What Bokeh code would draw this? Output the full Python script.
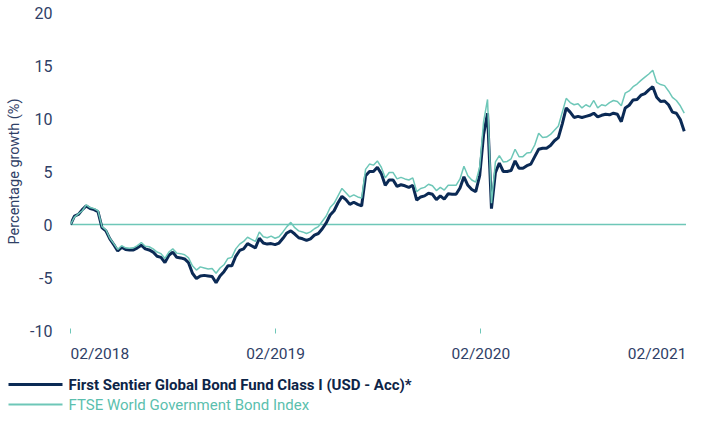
import pandas as pd
from bokeh.plotting import figure
from bokeh.layouts import column
from bokeh.models import Range1d, FixedTicker, Span, CustomJSTickFormatter
from bokeh.core.properties import value
from bokeh.embed import file_html
from bokeh.resources import INLINE

# ---------------- data ----------------
start_date = "2018-02-01"
fund = [
    0.0, 0.8, 0.95, 1.4, 1.75, 1.5, 1.4, 1.2, -0.3, -0.6,
    -1.35, -1.9, -2.5, -2.15, -2.35, -2.4, -2.4, -2.2, -1.95, -2.3,
    -2.4, -2.6, -3.0, -3.1, -3.6, -2.9, -2.6, -3.1, -3.15, -3.25,
    -3.6, -4.6, -5.1, -4.85, -4.8, -4.85, -4.9, -5.5, -4.85, -4.45,
    -3.9, -3.9, -3.0, -2.45, -2.3, -1.8, -2.0, -2.2, -1.3, -1.75,
    -1.85, -1.8, -1.9, -1.75, -1.3, -0.8, -0.6, -0.9, -1.25, -1.35,
    -1.5, -1.35, -1.0, -0.85, -0.4, 0.15, 0.9, 1.3, 2.05, 2.65,
    2.35, 1.9, 2.1, 1.9, 1.75, 4.6, 5.0, 5.0, 5.4, 4.8,
    3.7, 4.2, 4.2, 3.6, 3.75, 3.65, 3.5, 3.7, 2.3, 2.6,
    2.7, 2.95, 2.85, 2.35, 2.7, 2.4, 2.9, 2.85, 2.85, 3.45,
    4.5, 3.7, 3.3, 3.1, 4.6, 8.5, 10.5, 1.5, 4.9, 5.8,
    5.0, 5.0, 5.1, 6.0, 5.3, 5.3, 5.55, 5.7, 6.4, 7.1,
    7.2, 7.2, 7.45, 7.9, 8.2, 9.5, 11.0, 10.6, 10.1, 10.2,
    10.1, 10.2, 10.3, 10.5, 10.15, 10.3, 10.4, 10.35, 10.5, 10.4,
    9.7, 11.0, 11.25, 11.75, 11.8, 12.2, 12.35, 12.7, 13.0, 12.0,
    11.6, 11.65, 11.3, 10.6, 10.5, 9.9, 8.8,
]
index = [
    0.0, 0.7, 1.0, 1.3, 1.85, 1.6, 1.5, 1.3, -0.2, -0.5,
    -1.3, -1.8, -2.35, -2.0, -2.2, -2.25, -2.2, -2.0, -1.7, -2.05,
    -2.1, -2.3, -2.6, -2.75, -3.2, -2.6, -2.3, -2.7, -2.75, -2.85,
    -3.15, -3.9, -4.3, -4.0, -4.1, -4.2, -4.15, -4.6, -4.1, -3.8,
    -3.2, -3.1, -2.3, -1.85, -1.6, -1.2, -1.4, -1.6, -0.7, -1.15,
    -1.25, -1.1, -1.3, -1.15, -0.7, -0.2, 0.2, -0.3, -0.6, -0.7,
    -0.85, -0.7, -0.4, -0.2, 0.3, 0.8, 1.6, 2.0, 2.7, 3.4,
    3.0, 2.6, 2.8, 2.6, 2.5, 5.2, 5.7, 5.6, 6.0, 5.4,
    4.4, 4.9, 4.9, 4.3, 4.45, 4.3, 4.2, 4.4, 3.1, 3.4,
    3.5, 3.8, 3.65, 3.2, 3.5, 3.25, 3.7, 3.7, 3.7, 4.3,
    5.5, 4.6, 4.2, 4.0, 5.4, 9.7, 11.8, 2.0, 5.9, 6.5,
    5.9, 5.95, 6.2, 7.1, 6.4, 6.4, 6.75, 6.8, 7.5, 8.6,
    8.2, 8.25, 8.5, 8.9, 9.3, 10.6, 11.9, 11.5, 11.3, 11.4,
    11.0, 11.3, 11.1, 11.7, 11.0, 11.3, 11.2, 11.5, 11.7, 11.6,
    11.2, 12.4, 12.6, 13.0, 13.25, 13.6, 13.9, 14.2, 14.55, 13.4,
    13.2, 13.1, 12.6, 12.0, 11.7, 11.2, 10.5,
]
tick_dates = ["2018-02-01", "2019-02-01", "2020-02-01", "2021-02-01"]
tick_labels = ["02/2018", "02/2019", "02/2020", "02/2021"]
y_ticks = [-10, -5, 0, 5, 10, 15, 20]
y_tick_labels = ["-10", "-5", "0", "5", "10", "15", "20"]
series_names = ["First Sentier Global Bond Fund Class I (USD - Acc)*",
                "FTSE World Government Bond Index"]

# ---------------- styling ----------------
NAVY = "#0b2a55"
TEAL = "#6ec7b8"
TEXT = "#2f4066"
FONT = "Roboto"
W = 686
LEFT = 70

dates = pd.date_range(start_date, periods=len(fund), freq="7D")
tick_ms = [pd.Timestamp(d).value // 10**6 for d in tick_dates]
xr = Range1d(start=tick_ms[0], end=tick_ms[-1])

# ---------------- main chart ----------------
p = figure(width=W, height=340, x_axis_type="datetime", x_range=xr,
           y_range=Range1d(-10, 20),
           output_backend="svg", toolbar_location=None,
           min_border_left=LEFT, min_border_right=0,
           min_border_top=12, min_border_bottom=10)
p.frame_align = True
p.outline_line_color = None
p.xgrid.grid_line_color = None
p.ygrid.grid_line_color = None

p.xaxis.ticker = FixedTicker(ticks=tick_ms)
p.xaxis.formatter = CustomJSTickFormatter(code="return ''")
p.xaxis.axis_line_color = None
p.xaxis.major_tick_line_color = TEAL
p.xaxis.major_tick_in = 2
p.xaxis.major_tick_out = 3
p.xaxis.major_label_standoff = 0
p.xaxis.minor_tick_line_color = None

p.yaxis.ticker = FixedTicker(ticks=y_ticks)
p.yaxis.major_label_overrides = dict(zip(y_ticks, y_tick_labels))
p.yaxis.axis_line_color = None
p.yaxis.major_tick_line_color = None
p.yaxis.minor_tick_line_color = None
p.yaxis.major_tick_in = 0
p.yaxis.major_tick_out = 0
p.yaxis.major_label_standoff = 18
p.yaxis.major_label_text_font = FONT
p.yaxis.major_label_text_font_size = "16px"
p.yaxis.major_label_text_color = TEXT
p.yaxis.axis_label = "Percentage growth (%)"
p.yaxis.axis_label_text_font = FONT
p.yaxis.axis_label_text_font_size = "14.5px"
p.yaxis.axis_label_text_font_style = "normal"
p.yaxis.axis_label_text_color = TEXT
p.yaxis.axis_label_standoff = 4

p.add_layout(Span(location=0, dimension="width", line_color=TEAL,
                  line_width=1.5, level="underlay"))

p.line(dates, fund, line_color=NAVY, line_width=3)
p.line(dates, index, line_color=TEAL, line_width=1.5)

# ---------------- x tick labels (same x scale as the chart) ----------------
fx = figure(width=W, height=26, x_range=xr, y_range=Range1d(0, 26),
            output_backend="svg", toolbar_location=None,
            min_border_left=LEFT, min_border_right=0, min_border_top=0,
            min_border_bottom=0, x_axis_type=None, y_axis_type=None)
fx.frame_align = True
fx.outline_line_color = None
fx.xgrid.grid_line_color = None
fx.ygrid.grid_line_color = None
aligns = ["left", "center", "center", "right"]
for t, lab, al in zip(tick_ms, tick_labels, aligns):
    fx.text(x=[t], y=[13], text=[lab], text_align=al, text_baseline="middle",
            text_font=value(FONT), text_font_size="15.5px", text_color=TEXT)

# ---------------- legend ----------------
lg = figure(width=W, height=48, x_range=Range1d(0, W), y_range=Range1d(0, 48),
            output_backend="svg", toolbar_location=None, min_border=0,
            x_axis_type=None, y_axis_type=None)
lg.frame_align = False
lg.outline_line_color = None
lg.xgrid.grid_line_color = None
lg.ygrid.grid_line_color = None
lg.segment(x0=[8], y0=[30], x1=[62], y1=[30], line_color=NAVY, line_width=3)
lg.segment(x0=[8], y0=[10], x1=[62], y1=[10], line_color=TEAL, line_width=2)
lg.text(x=[68], y=[30], text=[series_names[0]], text_color="#0d2447",
        text_font=value(FONT), text_font_size="15px", text_font_style="bold",
        text_baseline="middle")
lg.text(x=[68], y=[10], text=[series_names[1]], text_color="#5bbfae",
        text_font=value(FONT), text_font_size="15px", text_font_style="normal",
        text_baseline="middle")

layout = column(p, fx, lg, spacing=0)
open("out.html", "w").write(file_html(layout, INLINE))
